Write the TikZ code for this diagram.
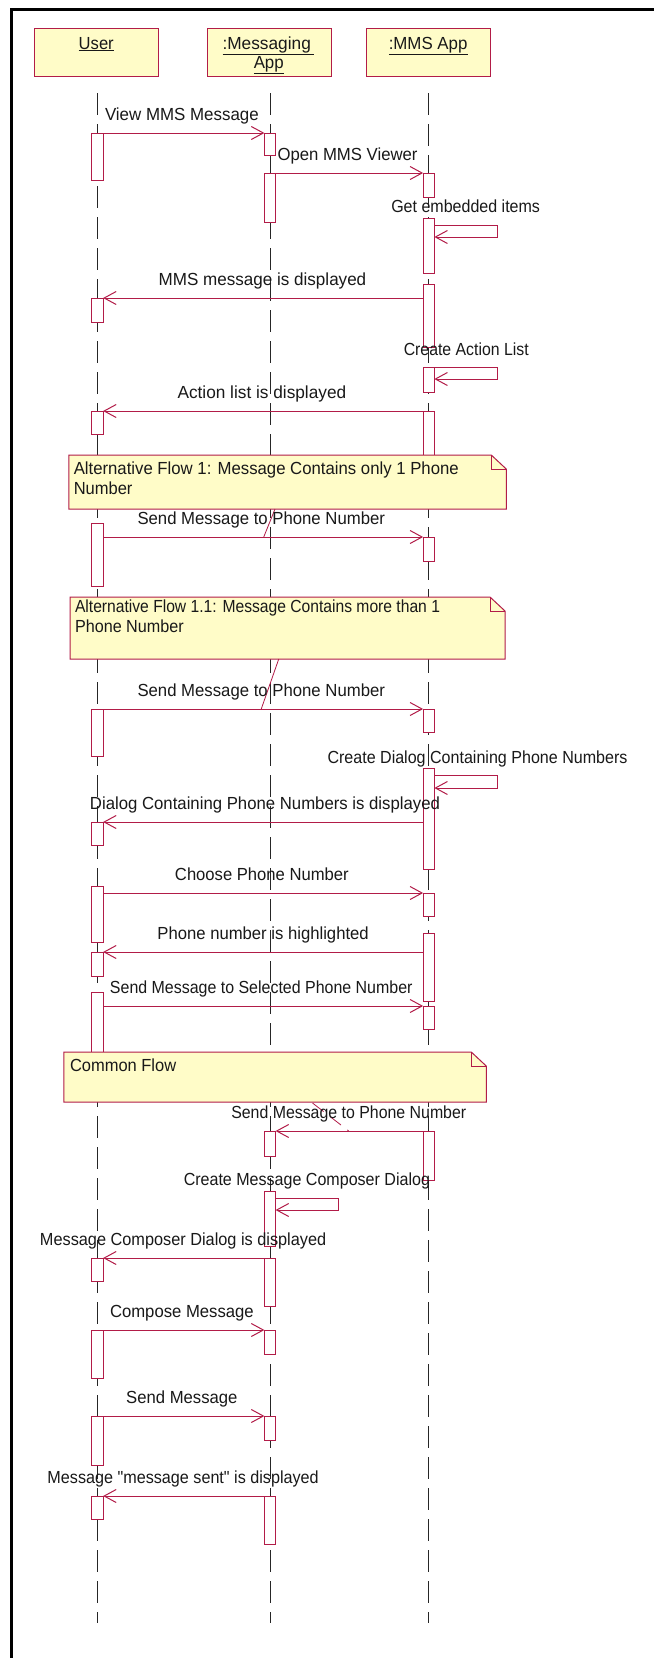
\documentclass[tikz,border=0pt]{standalone}
\usepackage{fontspec}
\setmainfont{Liberation Sans}[Ligatures=TeXOff]
\usetikzlibrary{arrows.meta}
\definecolor{umlred}{RGB}{178,28,72}
\definecolor{umlyel}{RGB}{255,252,200}
\newcommand{\lbl}[2]{\resizebox{\dimexpr #1pt*5/4\relax}{\height}{#2}}
\newcommand{\actbar}[4]{\node[act, minimum height={#4-#3}] (#1) at (#2,{(#3+#4)/2}) {};}
\begin{document}
\begin{tikzpicture}[x=1.25pt,y=-1pt,font=\fontsize{17.5}{21}\selectfont,
  act/.style={draw=umlred, fill=white, line width=1pt, minimum width=11.25pt, inner sep=0pt, outer sep=0pt, rectangle},
  headbox/.style={draw=umlred, fill=umlyel, line width=1pt, minimum width=124pt, minimum height=48pt, inner sep=0pt, outer sep=0pt, rectangle},
  msg/.style={draw=umlred, line width=1pt, -{Straight Barb[length=12pt,width=13pt,line width=1pt]}},
  lifeline/.style={draw=black!85, line width=1pt, dash pattern=on 22pt off 9pt},
  txt/.style={anchor=base, inner sep=0pt, outer sep=0pt, text=black!90},
  ntxt/.style={anchor=base west, inner sep=0pt, outer sep=0pt, text=black!90},
  notebody/.style={draw=umlred, fill=umlyel, line width=1pt},
  noteline/.style={draw=umlred, line width=1pt},
  anchorline/.style={draw=umlred, line width=0.8pt}]
\useasboundingbox (0,0) rectangle (523.2,1658);
\fill[white] (0,0) rectangle (523.2,1658);
% frame
\draw[line width=3pt] (9,1658) -- (9,9.5) -- (523.2,9.5);
% lifelines
\coordinate (uTop) at (78,93);   \coordinate (uBot) at (78,1623);
\coordinate (mTop) at (216,93);  \coordinate (mBot) at (216,1623);
\coordinate (aTop) at (343,93);  \coordinate (aBot) at (343,1623);
\draw[lifeline] (uTop) -- (uBot);
\draw[lifeline] (mTop) -- (mBot);
\draw[lifeline] (aTop) -- (aBot);
% heads
\node[headbox] (hU) at (77.5,52) {};
\node[headbox] (hM) at (215.5,52) {};
\node[headbox] (hA) at (342.5,52) {};
\node[txt] (hUt) at (77,49) {\lbl{28}{\underline{User}}};
\node[txt] (hMt1) at (214.5,49) {\lbl{73}{\underline{:Messaging\,}}};
\node[txt] (hMt2) at (215,68) {\lbl{24}{\underline{App}}};
\node[txt] (hAt) at (342.5,49) {\lbl{63}{\underline{:MMS App}}};
% activations: user
\actbar{L1}{78}{133}{180}
\actbar{L2}{78}{298}{322}
\actbar{L3}{78}{411}{434}
\actbar{L4}{78}{523}{586}
\actbar{L5}{78}{709}{756}
\actbar{L6}{78}{822}{845}
\actbar{L7}{78}{886}{942}
\actbar{L8}{78}{952}{976}
\actbar{L9}{78}{992}{1056}
\actbar{L10}{78}{1258}{1281}
\actbar{L11}{78}{1330}{1378}
\actbar{L12}{78}{1416}{1465}
\actbar{L13}{78}{1496}{1519}
% messaging app
\actbar{M1}{216}{133}{155}
\actbar{M2}{216}{173}{222}
\actbar{M3}{216}{1131}{1156}
\actbar{M4}{216}{1191}{1246}
\actbar{M5}{216}{1258}{1306}
\actbar{M6}{216}{1330}{1354}
\actbar{M7}{216}{1416}{1440}
\actbar{M8}{216}{1496}{1544}
% mms app
\actbar{A1}{343}{173}{197}
\actbar{A2}{343}{218}{273}
\actbar{A3}{343}{284}{347}
\actbar{A4}{343}{367}{392}
\actbar{A5}{343}{411}{462}
\actbar{A6}{343}{537}{561}
\actbar{A7}{343}{709}{732}
\actbar{A8}{343}{768}{869}
\actbar{A9}{343}{893}{916}
\actbar{A10}{343}{933}{1001}
\actbar{A11}{343}{1006}{1029}
\actbar{A12}{343}{1131}{1180}
% messages
\draw[msg] (L1.north east) -- (M1.north west);
\draw[msg] (M2.north east) -- (A1.north west);
\draw[msg] ([yshift=-7pt]A2.north east) -- ++(50.5,0) |- ([yshift=-19pt]A2.north east);
\draw[msg] (A3.west |- L2.north) -- (L2.north east);
\draw[msg] (A4.north east) -- ++(50.5,0) |- ([yshift=-12pt]A4.north east);
\draw[msg] (A5.north west) -- (L3.north east);
\draw[msg] (L4.east |- A6.north) -- (A6.north west);
\draw[msg] (L5.north east) -- (A7.north west);
\draw[msg] ([yshift=-7pt]A8.north east) -- ++(50.5,0) |- ([yshift=-20pt]A8.north east);
\draw[msg] (A8.west |- L6.north) -- (L6.north east);
\draw[msg] (L7.east |- A9.north) -- (A9.north west);
\draw[msg] (A10.west |- L8.north) -- (L8.north east);
\draw[msg] (L9.east |- A11.north) -- (A11.north west);
\draw[msg] (A12.north west) -- (M3.north east);
\draw[msg] ([yshift=-7pt]M4.north east) -- ++(50.5,0) |- ([yshift=-19pt]M4.north east);
\draw[msg] (M5.north west) -- (L10.north east);
\draw[msg] (L11.north east) -- (M6.north west);
\draw[msg] (L12.north east) -- (M7.north west);
\draw[msg] (M8.north west) -- (L13.north east);
% notes
\draw[notebody] (55,455) -- (393,455) -- (405,469) -- (405,509) -- (55,509) -- cycle;
\draw[noteline] (393,455) -- (393,469) -- (405,469);
\draw[notebody] (56,597) -- (392,597) -- (404,611) -- (404,659) -- (56,659) -- cycle;
\draw[noteline] (392,597) -- (392,611) -- (404,611);
\draw[notebody] (51,1052) -- (377,1052) -- (389,1066) -- (389,1102) -- (51,1102) -- cycle;
\draw[noteline] (377,1052) -- (377,1066) -- (389,1066);
\node[ntxt] (n1t1) at (59,474) {\lbl{308}{Alternative Flow 1: Message Contains only 1 Phone}};
\node[ntxt] (n1t2) at (59,494) {\lbl{47}{Number}};
\node[ntxt] (n2t1) at (60,612) {\lbl{292}{Alternative Flow 1.1: Message Contains more than 1}};
\node[ntxt] (n2t2) at (60,632) {\lbl{87}{Phone Number}};
\node[ntxt] (n3t) at (56,1071) {\lbl{85}{Common Flow}};
% note anchors
\coordinate (n1a) at (220,509); \coordinate (n1b) at (211,537);
\coordinate (n2a) at (223,659); \coordinate (n2b) at (209,709);
\coordinate (n3a) at (250,1103); \coordinate (n3b) at (279,1131);
\draw[anchorline] (n1a) -- (n1b);
\draw[anchorline] (n2a) -- (n2b);
\draw[anchorline, dash pattern=on 14pt off 8pt] (n3a) -- (n3b);
% message labels
\node[txt] (t1) at (145.5,120.5) {\lbl{123}{View MMS Message}};
\node[txt] (t2) at (278,160.5) {\lbl{112}{Open MMS Viewer}};
\node[txt] (t3) at (372.5,212) {\lbl{119}{Get embedded items}};
\node[txt] (t4) at (210,285.5) {\lbl{166}{MMS message is displayed}};
\node[txt] (t5) at (373,355) {\lbl{100}{Create Action List}};
\node[txt] (t6) at (209.5,398.5) {\lbl{135}{Action list is displayed}};
\node[txt] (t7) at (209,524.5) {\lbl{198}{Send Message to Phone Number}};
\node[txt] (t8) at (209,696.5) {\lbl{198}{Send Message to Phone Number}};
\node[txt] (t9) at (382,763) {\lbl{240}{Create Dialog Containing Phone Numbers}};
\node[txt] (t10) at (212,809.5) {\lbl{280}{Dialog Containing Phone Numbers is displayed}};
\node[txt] (t11) at (209.5,880.5) {\lbl{139}{Choose Phone Number}};
\node[txt] (t12) at (210.5,939.5) {\lbl{169}{Phone number is highlighted}};
\node[txt] (t13) at (209,993.5) {\lbl{242}{Send Message to Selected Phone Number}};
\node[txt] (t14) at (279,1118.5) {\lbl{188}{Send Message to Phone Number}};
\node[txt] (t15) at (245.5,1185) {\lbl{197}{Create Message Composer Dialog}};
\node[txt] (t16) at (146.5,1245.5) {\lbl{229}{Message Composer Dialog is displayed}};
\node[txt] (t17) at (145.5,1317.5) {\lbl{115}{Compose Message}};
\node[txt] (t18) at (145.5,1403.5) {\lbl{89}{Send Message}};
\node[txt] (t19) at (146.5,1483.5) {\lbl{217}{Message "message sent" is displayed}};
\end{tikzpicture}
\end{document}
